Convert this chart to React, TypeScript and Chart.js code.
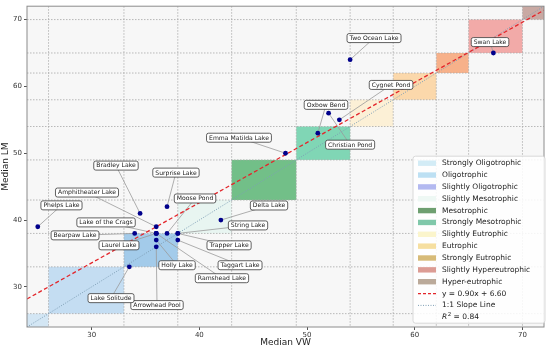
import React, { useEffect, useRef } from "react";
import { Chart, registerables } from "chart.js";
Chart.register(...registerables);

const FONT = "DejaVu Sans";

// Lakes: name, median VW (x), median LM (y), label anchor (data units)
const lakeNames = [
  "Phelps Lake", "Bradley Lake", "Surprise Lake", "Amphitheater Lake", "Moose Pond",
  "Lake of the Crags", "Bearpaw Lake", "Laurel Lake", "Holly Lake", "Ramshead Lake",
  "Taggart Lake", "Trapper Lake", "String Lake", "Delta Lake", "Arrowhead Pool",
  "Lake Solitude", "Emma Matilda Lake", "Oxbow Bend", "Christian Pond", "Cygnet Pond",
  "Two Ocean Lake", "Swan Lake",
];
const medianVW = [25, 34.5, 37, 36, 37, 36, 34, 36, 36, 36, 38, 38, 38, 42, 36, 33.5, 48, 51, 52, 53, 54, 67.3];
const medianLM = [39, 41, 42, 39, 38, 38, 38, 38, 37, 38, 37, 38, 38, 40, 36, 33, 50, 53, 56, 55, 64, 65];
const labelVW = [27.2, 32.26, 37.83, 29.57, 39.6, 31.34, 28.46, 32.54, 37.93, 42.1, 43.78, 42.76, 44.52, 46.47, 36.07, 31.8, 43.68, 51.76, 54.0, 57.8, 56.22, 66.99];
const labelLM = [42.2, 48.15, 47.1, 44.12, 43.23, 39.65, 37.71, 36.22, 33.24, 31.3, 33.24, 36.22, 39.2, 42.18, 27.28, 28.32, 52.32, 57.24, 51.28, 60.22, 67.23, 66.63];

// Trophic classes
const trophicNames = [
  "Strongly Oligotrophic", "Oligotrophic", "Slightly Oligotrophic", "Slightly Mesotrophic",
  "Mesotrophic", "Strongly Mesotrophic", "Slightly Eutrophic", "Eutrophic",
  "Strongly Eutrophic", "Slightly Hypereutrophic", "Hyper-eutrophic",
];
const trophicLower = [0, 26, 33, 38, 43, 49, 54, 58, 62, 65, 70];
const trophicUpper = [26, 33, 38, 43, 49, 54, 58, 62, 65, 70, 100];
const trophicFill = [
  "#d3e6f4", "#c4ddf2", "#a3cbea", "#e8f5f1", "#72bf88", "#80d6b5",
  "#fcf0d6", "#fbd8ab", "#f7b18a", "#f2aaa8", "#c9a9a3",
];
const trophicLegend = [
  "#d3ecf6", "#bde0f3", "#b3b9f0", "#eef8f4", "#6e9f70", "#80c8aa",
  "#fbf5cc", "#f6dfa0", "#d7bb78", "#dc9c94", "#bbaa9a",
];
const boundaries = [26, 33, 38, 43, 49, 54, 58, 62, 65, 70];

const slope = 0.9;
const intercept = 6.6;
const rSquared = 0.84;

const xTicks = [30, 40, 50, 60, 70];
const yTicks = [30, 40, 50, 60, 70];
const axisMin = 24;
const axisMax = 72;

const REG_COLOR = "#e3262b";
const ONE_COLOR = "#7f9fb6";

export default function App() {
  const ref = useRef<HTMLCanvasElement>(null);
  useEffect(() => {
    document.body.style.margin = "0";
    const canvas = ref.current!;

    const plugin = {
      id: "trophic",
      beforeDatasetsDraw(chart: any) {
        const { ctx, chartArea: a, scales } = chart;
        const x = scales.x, y = scales.y;
        ctx.save();
        ctx.fillStyle = "#f7f7f7";
        ctx.fillRect(a.left, a.top, a.right - a.left, a.bottom - a.top);
        ctx.beginPath();
        ctx.rect(a.left, a.top, a.right - a.left, a.bottom - a.top);
        ctx.clip();
        trophicLower.forEach((lo, i) => {
          const hi = trophicUpper[i];
          const x0 = x.getPixelForValue(lo), x1 = x.getPixelForValue(hi);
          const y0 = y.getPixelForValue(hi), y1 = y.getPixelForValue(lo);
          ctx.fillStyle = trophicFill[i];
          ctx.fillRect(x0, y0, x1 - x0, y1 - y0);
        });
        ctx.strokeStyle = "#a8a8a8";
        ctx.lineWidth = 0.8;
        ctx.setLineDash([1.5, 1.5]);
        boundaries.forEach((v) => {
          const px = x.getPixelForValue(v);
          const py = y.getPixelForValue(v);
          ctx.beginPath();
          ctx.moveTo(px, a.top);
          ctx.lineTo(px, a.bottom);
          ctx.stroke();
          ctx.beginPath();
          ctx.moveTo(a.left, py);
          ctx.lineTo(a.right, py);
          ctx.stroke();
        });
        ctx.setLineDash([]);
        // connectors
        ctx.strokeStyle = "#9a9a9a";
        ctx.lineWidth = 0.8;
        lakeNames.forEach((_, i) => {
          ctx.beginPath();
          ctx.moveTo(x.getPixelForValue(labelVW[i]), y.getPixelForValue(labelLM[i]));
          ctx.lineTo(x.getPixelForValue(medianVW[i]), y.getPixelForValue(medianLM[i]));
          ctx.stroke();
        });
        ctx.restore();
      },
      afterDatasetsDraw(chart: any) {
        const { ctx, chartArea: a, scales } = chart;
        const x = scales.x, y = scales.y;
        ctx.save();
        // labels
        ctx.font = `6.1px "${FONT}"`;
        ctx.textAlign = "center";
        ctx.textBaseline = "middle";
        lakeNames.forEach((name, i) => {
          const cx = x.getPixelForValue(labelVW[i]);
          const cy = y.getPixelForValue(labelLM[i]);
          const w = ctx.measureText(name).width + 5;
          const h = 9;
          ctx.beginPath();
          (ctx as any).roundRect(cx - w / 2, cy - h / 2, w, h, 2);
          ctx.fillStyle = "#ffffff";
          ctx.fill();
          ctx.strokeStyle = "#3a3a3a";
          ctx.lineWidth = 0.8;
          ctx.stroke();
          ctx.fillStyle = "#222";
          ctx.fillText(name, cx, cy + 0.3);
        });
        // frame
        ctx.strokeStyle = "#8c8c8c";
        ctx.lineWidth = 1;
        ctx.strokeRect(a.left, a.top, a.right - a.left, a.bottom - a.top);

        // legend
        const lx = a.right - 131;
        const ly = a.top + 150;
        const lw = 132;
        const lh = 167;
        ctx.beginPath();
        (ctx as any).roundRect(lx, ly, lw, lh, 2.5);
        ctx.fillStyle = "rgba(255,255,255,0.85)";
        ctx.fill();
        ctx.strokeStyle = "#d0d0d0";
        ctx.lineWidth = 0.8;
        ctx.stroke();
        ctx.font = `7.5px "${FONT}"`;
        ctx.textAlign = "left";
        ctx.textBaseline = "middle";
        const step = 11.85;
        const px0 = lx + 5, px1 = lx + 23, tx = lx + 29;
        trophicNames.forEach((n, i) => {
          const cy = ly + 7 + i * step;
          ctx.fillStyle = trophicLegend[i];
          ctx.fillRect(px0, cy - 2.7, px1 - px0, 5.4);
          ctx.fillStyle = "#222";
          ctx.fillText(n, tx, cy);
        });
        let cy = ly + 7 + 11 * step;
        ctx.strokeStyle = REG_COLOR;
        ctx.lineWidth = 1.2;
        ctx.setLineDash([3, 2]);
        ctx.beginPath(); ctx.moveTo(px0, cy); ctx.lineTo(px1, cy); ctx.stroke();
        ctx.fillStyle = "#222";
        ctx.fillText(`y = ${slope.toFixed(2)}x + ${intercept.toFixed(2)}`, tx, cy);
        cy += step;
        ctx.strokeStyle = ONE_COLOR;
        ctx.lineWidth = 1;
        ctx.setLineDash([1, 1.5]);
        ctx.beginPath(); ctx.moveTo(px0, cy); ctx.lineTo(px1, cy); ctx.stroke();
        ctx.setLineDash([]);
        ctx.fillText("1:1 Slope Line", tx, cy);
        cy += step;
        ctx.font = `italic 7.5px "${FONT}"`;
        ctx.fillText("R", tx, cy);
        let off = tx + ctx.measureText("R").width + 0.5;
        ctx.font = `5.5px "${FONT}"`;
        ctx.fillText("2", off, cy - 3);
        off += ctx.measureText("2").width;
        ctx.font = `7.5px "${FONT}"`;
        ctx.fillText(` = ${rSquared.toFixed(2)}`, off, cy);
        ctx.restore();
      },
    };

    const chart = new Chart(canvas, {
      type: "scatter",
      data: {
        datasets: [
          {
            label: "Lakes",
            data: medianVW.map((v, i) => ({ x: v, y: medianLM[i] })),
            backgroundColor: "#00008b",
            borderWidth: 0,
            pointRadius: 2.4,
            order: 0,
          },
          {
            label: "Regression",
            data: [axisMin, axisMax].map((v) => ({ x: v, y: slope * v + intercept })),
            showLine: true,
            borderColor: REG_COLOR,
            borderWidth: 1.3,
            borderDash: [4, 2.5],
            pointRadius: 0,
            order: 1,
          },
          {
            label: "1:1",
            data: [axisMin, axisMax].map((v) => ({ x: v, y: v })),
            showLine: true,
            borderColor: ONE_COLOR,
            borderWidth: 1,
            borderDash: [1, 1.5],
            pointRadius: 0,
            order: 2,
          },
        ],
      },
      options: {
        responsive: false,
        animation: false,
        layout: { padding: { top: 5, right: 6, left: 0, bottom: 0 } },
        plugins: { legend: { display: false }, tooltip: { enabled: false } },
        scales: {
          x: {
            type: "linear",
            min: axisMin,
            max: axisMax,
            afterBuildTicks: (s: any) => { s.ticks = xTicks.map((v) => ({ value: v })); },
            afterFit: (s: any) => { s.height = 24; },
            ticks: { font: { family: FONT, size: 7 }, color: "#333", padding: 1, maxRotation: 0 },
            grid: { drawOnChartArea: false, drawTicks: true, tickLength: 3, color: "#555" },
            border: { display: false },
            title: { display: true, text: "Median VW", font: { family: FONT, size: 9 }, color: "#222", padding: { top: 0, bottom: 3 } },
          },
          y: {
            type: "linear",
            min: axisMin,
            max: axisMax,
            afterBuildTicks: (s: any) => { s.ticks = yTicks.map((v) => ({ value: v })); },
            afterFit: (s: any) => { s.width = 27; },
            ticks: { font: { family: FONT, size: 7 }, color: "#333", padding: 2 },
            grid: { drawOnChartArea: false, drawTicks: true, tickLength: 3, color: "#555" },
            border: { display: false },
            title: { display: true, text: "Median LM", font: { family: FONT, size: 9 }, color: "#222", padding: { top: 0, bottom: 4 } },
          },
        },
      },
      plugins: [plugin],
    } as any);
    return () => chart.destroy();
  }, []);

  return <canvas ref={ref} width={550} height={351} style={{ display: "block" }} />;
}
